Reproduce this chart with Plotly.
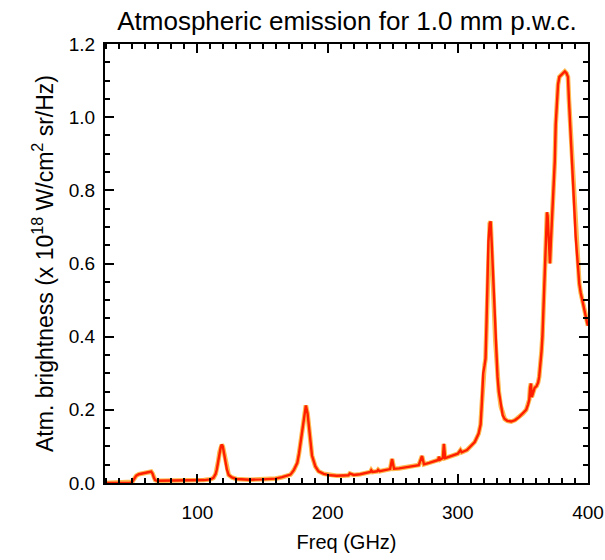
import plotly.graph_objects as go

# Frequency (GHz) and atmospheric brightness (x 1e-18 W/cm^2 sr/Hz)
freq = [
    29, 40, 48, 50, 51.5, 53, 55, 57, 59, 61, 63, 64.5, 65.5, 66.5, 67.5, 69, 75, 85, 95, 105,
    110, 112.3, 114, 114.9, 116, 117, 118, 118.75, 119.5, 120.5, 121.5, 122.6, 124, 126.5, 130, 140,
    150, 160, 165, 171.5, 174, 176.7, 178, 179.2, 180.5, 182, 183.3, 184.6, 185.8, 186.7, 188, 190.5,
    193, 197, 202, 207, 212, 216, 217, 220, 225, 230, 232.8, 233.5, 234.5, 238, 238.8, 240, 245, 248,
    249.5, 251, 255, 260, 265, 270, 272.5, 274, 278, 282, 285, 285.5, 286.5, 288.5, 289.3, 290.3, 295,
    300, 302, 303, 307, 310, 313, 316, 317.5, 318.5, 319.5, 320.5, 321.3, 322, 322.6, 323.5, 324.5,
    325.2, 326, 326.5, 327.2, 327.8, 328.8, 329.7, 330.5, 331.5, 333, 334.5, 336, 338, 341, 344, 347,
    350, 352.5, 354, 354.9, 355.5, 356.2, 356.8, 357.8, 359, 360.5, 361.7, 362.5, 363.5, 364.3, 365,
    365.8, 366.5, 367.2, 367.8, 368.5, 369, 369.6, 370.3, 370.8, 371.5, 372.3, 373.2, 373.9, 374.5,
    375.2, 376, 377, 378, 379.5, 381, 382.2, 383.5, 384.6, 385.4, 386.1, 386.7, 387.4, 388, 388.6,
    389.2, 389.9, 390.5, 391.2, 391.8, 392.5, 393.3, 394.4, 395.5, 396.9, 398, 399.3, 400,
]
brightness = [
    0.0, 0.0, 0.0, 0.003, 0.012, 0.02, 0.024, 0.025, 0.026, 0.028, 0.03, 0.031, 0.026, 0.015, 0.008, 0.006, 0.006, 0.006, 0.007, 0.008,
    0.01, 0.014, 0.025, 0.037, 0.06, 0.085, 0.1, 0.105, 0.1, 0.08, 0.055, 0.037, 0.022, 0.015, 0.011, 0.009,
    0.01, 0.012, 0.016, 0.023, 0.035, 0.055, 0.08, 0.11, 0.15, 0.19, 0.212, 0.19, 0.15, 0.11, 0.075, 0.046,
    0.032, 0.025, 0.021, 0.02, 0.02, 0.021, 0.026, 0.022, 0.024, 0.027, 0.03, 0.035, 0.03, 0.032, 0.036, 0.032, 0.035, 0.038,
    0.066, 0.039, 0.04, 0.043, 0.046, 0.049, 0.074, 0.051, 0.055, 0.059, 0.063, 0.072, 0.064, 0.068, 0.107, 0.068, 0.073,
    0.08, 0.09, 0.084, 0.09, 0.1, 0.112, 0.135, 0.16, 0.22, 0.3, 0.32, 0.34, 0.43, 0.56, 0.66, 0.71,
    0.715, 0.66, 0.62, 0.55, 0.48, 0.39, 0.33, 0.29, 0.25, 0.21, 0.185, 0.175, 0.17, 0.168, 0.172, 0.18,
    0.19, 0.2, 0.215, 0.228, 0.26, 0.272, 0.235, 0.25, 0.26, 0.265, 0.275, 0.29, 0.32, 0.36, 0.4,
    0.48, 0.56, 0.66, 0.72, 0.74, 0.73, 0.68, 0.62, 0.6, 0.66, 0.72, 0.76, 0.8, 0.88,
    0.98, 1.05, 1.09, 1.11, 1.115, 1.12, 1.125, 1.12, 1.11, 1.045, 1.0, 0.955, 0.91, 0.865, 0.82,
    0.77, 0.72, 0.675, 0.635, 0.6, 0.57, 0.545, 0.52, 0.5, 0.474, 0.455, 0.438, 0.43,
]

x_ticks = [100, 200, 300, 400]
y_ticks = [0.0, 0.2, 0.4, 0.6, 0.8, 1.0, 1.2]

FONT = "Liberation Sans, Arial, Helvetica, sans-serif"

fig = go.Figure()
fig.add_trace(go.Scatter(x=freq, y=brightness, mode="lines",
                         line=dict(color="rgb(255,185,80)", width=4.6),
                         hoverinfo="skip", showlegend=False))
fig.add_trace(go.Scatter(x=freq, y=brightness, mode="lines",
                         line=dict(color="rgb(255,30,0)", width=2.4),
                         showlegend=False))

fig.update_layout(
    width=605, height=560,
    margin=dict(l=105, r=17, t=44, b=77, autoexpand=False),
    paper_bgcolor="white", plot_bgcolor="white",
    font=dict(family=FONT, color="black", size=19),
    title=dict(text="Atmospheric emission for 1.0 mm p.w.c.",
               x=0.5735, xanchor="center", y=0.963, yanchor="middle",
               font=dict(family=FONT, size=26, color="black")),
    xaxis=dict(
        range=[29, 400], tickvals=x_ticks, ticktext=[str(v) for v in x_ticks],
        ticks="inside", ticklen=9, tickwidth=1.5, tickcolor="black",
        showline=True, linecolor="black", linewidth=2, mirror="ticks",
        showgrid=False, zeroline=False,
        minor=dict(dtick=10, tick0=0, ticks="inside", ticklen=5, tickwidth=1.5,
                   tickcolor="black", showgrid=False),
        ticklabelstandoff=11,
        tickfont=dict(family=FONT, size=19),
        title=dict(text="Freq (GHz)", font=dict(family=FONT, size=20), standoff=13),
        automargin=False,
    ),
    yaxis=dict(
        range=[0, 1.2], tickvals=y_ticks, ticktext=[f"{v:.1f}" for v in y_ticks],
        ticks="inside", ticklen=9, tickwidth=1.5, tickcolor="black",
        showline=True, linecolor="black", linewidth=2, mirror="ticks",
        showgrid=False, zeroline=False,
        minor=dict(dtick=0.05, tick0=0, ticks="inside", ticklen=5, tickwidth=1.5,
                   tickcolor="black", showgrid=False),
        ticklabelstandoff=4,
        tickfont=dict(family=FONT, size=19),
        title=dict(text="Atm. brightness (x 10<sup>18</sup> W/cm<sup>2</sup> sr/Hz)",
                   font=dict(family=FONT, size=23), standoff=9),
        automargin=False,
    ),
)

fig.write_html("out.html",
               config={"displayModeBar": False},
               post_script="document.body.style.margin='0';document.body.style.padding='0';")
